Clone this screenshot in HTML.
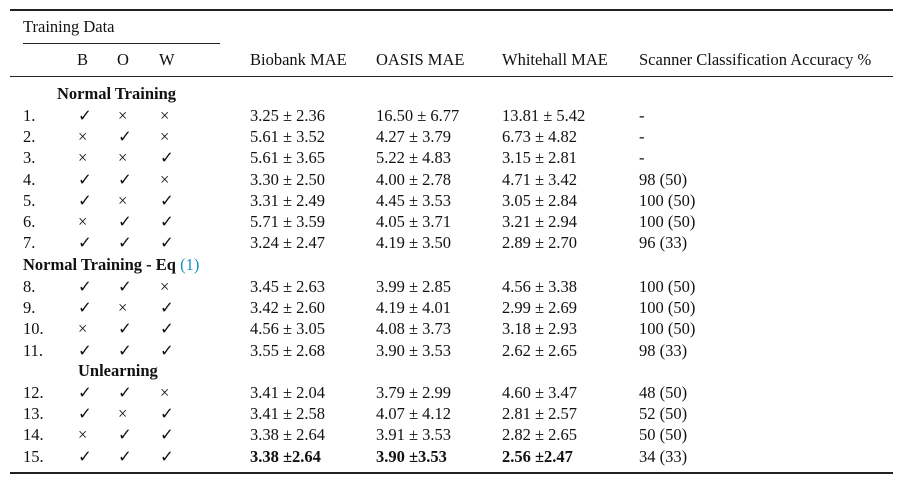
<!DOCTYPE html>
<html><head><meta charset="utf-8"><style>
body{margin:0;width:904px;height:482px;background:#fff;position:relative;font-family:"Liberation Serif",serif;font-size:16.5px;color:#111;overflow:hidden}
.t{position:absolute;white-space:nowrap;line-height:1}
.l{position:absolute;background:#222}
b{font-weight:bold}
</style></head><body>
<div class="l" style="left:10px;top:9px;width:883px;height:1.5px"></div>
<div class="l" style="left:23px;top:43px;width:197px;height:1px"></div>
<div class="l" style="left:10px;top:76px;width:883px;height:1px"></div>
<div class="l" style="left:10px;top:472px;width:883px;height:1.5px"></div>
<div class="t" style="left:23px;top:19px">Training Data</div>
<div class="t" style="left:77px;top:52px">B</div>
<div class="t" style="left:117px;top:52px">O</div>
<div class="t" style="left:159px;top:52px">W</div>
<div class="t" style="left:250px;top:52px">Biobank MAE</div>
<div class="t" style="left:376px;top:52px">OASIS MAE</div>
<div class="t" style="left:502px;top:52px">Whitehall MAE</div>
<div class="t" style="left:639px;top:52px">Scanner Classification Accuracy %</div>
<div id="rows"></div>
<script>
var Y=[108,129,150,172,193,214,235,279,300,321,343,385,406,427,449];
var D=[["✓","×","×","3.25 ± 2.36","16.50 ± 6.77","13.81 ± 5.42","-"],
["×","✓","×","5.61 ± 3.52","4.27 ± 3.79","6.73 ± 4.82","-"],
["×","×","✓","5.61 ± 3.65","5.22 ± 4.83","3.15 ± 2.81","-"],
["✓","✓","×","3.30 ± 2.50","4.00 ± 2.78","4.71 ± 3.42","98 (50)"],
["✓","×","✓","3.31 ± 2.49","4.45 ± 3.53","3.05 ± 2.84","100 (50)"],
["×","✓","✓","5.71 ± 3.59","4.05 ± 3.71","3.21 ± 2.94","100 (50)"],
["✓","✓","✓","3.24 ± 2.47","4.19 ± 3.50","2.89 ± 2.70","96 (33)"],
["✓","✓","×","3.45 ± 2.63","3.99 ± 2.85","4.56 ± 3.38","100 (50)"],
["✓","×","✓","3.42 ± 2.60","4.19 ± 4.01","2.99 ± 2.69","100 (50)"],
["×","✓","✓","4.56 ± 3.05","4.08 ± 3.73","3.18 ± 2.93","100 (50)"],
["✓","✓","✓","3.55 ± 2.68","3.90 ± 3.53","2.62 ± 2.65","98 (33)"],
["✓","✓","×","3.41 ± 2.04","3.79 ± 2.99","4.60 ± 3.47","48 (50)"],
["✓","×","✓","3.41 ± 2.58","4.07 ± 4.12","2.81 ± 2.57","52 (50)"],
["×","✓","✓","3.38 ± 2.64","3.91 ± 3.53","2.82 ± 2.65","50 (50)"],
["✓","✓","✓","<b>3.38 ±2.64</b>","<b>3.90 ±3.53</b>","<b>2.56 ±2.47</b>","34 (33)"]];
var X=[78,118,160,250,376,502,639],h="";
D.forEach(function(r,i){h+='<div class="t" style="left:23px;top:'+Y[i]+'px">'+(i+1)+'.</div>';
r.forEach(function(c,j){h+='<div class="t" style="left:'+X[j]+'px;top:'+Y[i]+'px">'+c+'</div>';});});
h+='<div class="t" style="left:57px;top:86px"><b>Normal Training</b></div>';
h+='<div class="t" style="left:23px;top:257px"><b>Normal Training - Eq</b> <span style="color:#1a8fc4">(1)</span></div>';
h+='<div class="t" style="left:78px;top:363px"><b>Unlearning</b></div>';
document.getElementById("rows").innerHTML=h;
</script>
</body></html>
